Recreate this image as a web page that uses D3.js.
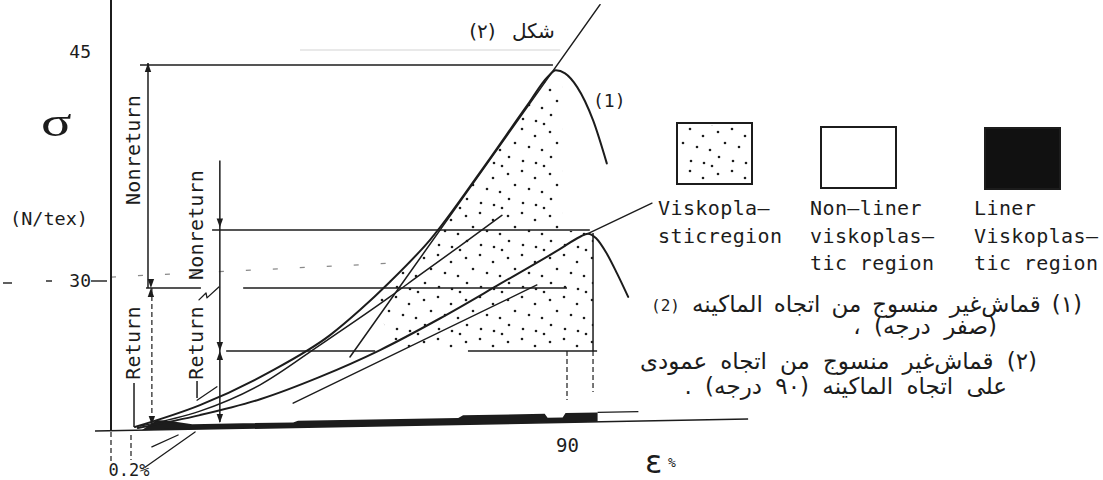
<!DOCTYPE html>
<html>
<head>
<meta charset="utf-8">
<script src="https://cdn.jsdelivr.net/npm/d3@7/dist/d3.min.js"></script>
<style>
  html, body { margin: 0; padding: 0; background: #fff; }
  #wrap { position: relative; width: 1103px; height: 480px; overflow: hidden; }
  svg { display: block; }
  .mono { font-family: "DejaVu Sans Mono", "Liberation Mono", monospace; fill: #1c1c1c; }
  .ar { font-family: "DejaVu Sans", "Noto Sans", sans-serif; fill: #1c1c1c; }
  .note { position: absolute; white-space: nowrap; line-height: 0.9; direction: rtl;
          font-family: "DejaVu Sans", "Noto Sans", sans-serif; color: #1c1c1c; }
</style>
</head>
<body>
<div id="wrap"><svg id="chart" width="1103" height="480"></svg></div>
<script>
// ---------------------------------------------------------------------
// Stress–strain sketch of a nonwoven fabric: specific stress σ (N/tex)
// against strain ε (%), machine direction (1) and cross direction (2).
// ---------------------------------------------------------------------

// axis ticks
const strainTicks = [90];
const strainOffset = 0.2;               // permanent-set offset on ε
const stressTicks = [30, 45];
const stressAxisMax = 48.4;
const axisEnds = [[-0.16, -0.2], [127.3, 2.2]];   // drawn ε baseline

// curve (1): machine direction (0°)
const curve1 = [[1.0, 0.6], [14.4, 5.0], [28.8, 11.7], [41.2, 19.1], [47.4, 24.2],
  [53.5, 29.8], [61.8, 32.7], [72.5, 37.3], [81.8, 41.5], [86.1, 43.4],
  [87.7, 43.8], [89.6, 43.6], [92.1, 42.7], [95.4, 40.5], [98.2, 37.7]];
// secant drawn under curve (1)
const curve1Secant = [[2.1, 0.8], [14.4, 3.8], [26.8, 9.1], [39.1, 17.1],
  [53.5, 26.8], [59.7, 30.4], [68.0, 32.3], [76.6, 34.3]];
// straight line through the peak of (1), running up to the figure label
const curve1Chord = [[45.3, 14.7], [56.4, 30], [96.8, 48.1]];

// curve (2): cross direction (90°)
const curve2 = [[1.6, 0.4], [14.4, 3.0], [26.8, 6.2], [39.1, 10.7], [51.5, 16.1],
  [63.9, 22.5], [76.2, 29.4], [88.6, 32.1], [92.7, 32.9], [94.3, 33.1],
  [96.0, 32.8], [98.0, 31.9], [100.3, 30.5], [102.6, 26.8]];
const curve2Tangent = [[33.6, 5.4], [83.8, 29.2]];
const curve2Leader = [[94.3, 33.1], [107.5, 35.1]];

// short construction strokes near the origin
const originTangent = [[13.8, 6.0], [17.9, 8.7]];
const offsetPointers = [[[4.5, -3.4], [9.9, -1.0]], [[3.1, -7.5], [13.4, -0.4]]];
const hookLeader = [[14.2, 26.2], [15.65, 27.6], [15.85, 26.6], [18.3, 28.8]];

// horizontal limit lines: stress level and the strain spans they cover
const limitLevels = [44.15, 33.34, 28.59, 15.9];
const limitSpans = [
  [[2.05, 87.1]],
  [[16.9, 94.7]],
  [[3.3, 14.6], [23.3, 90.0]],
  [[19.8, 50.5], [69.6, 96.2]]
];
const faintGuides = [[[0, 30.26], [54.6, 31.18]], [[35.0, 45.13], [88.6, 45.13]]];

// vertical dimension bars: strain, from-stress, to-stress, dashed?
const dimStrain = [3.7, 4.5, 18.5, 0.82, 13.8, 90, 95.36, 95.36, 0, 0.2];
const dimFrom   = [44.28, 28.59, 37.9, 9.46, 9.86, 15.9, 33.14, 15.9, -0.4, -1.0];
const dimTo     = [28.59, 1.2, 1.6, 0.6, 6.44, 6.04, 15.9, 7.65, -6.44, -6.04];
const dimDashed = [false, true, false, false, false, true, false, true, true, true];

const arrowsUp = [[3.7, 44.28]];
const arrowsDown = [[4.5, 1.0], [18.5, 33.5], [18.5, 1.4]];
const hourglasses = [[4.3, 28.59], [18.5, 15.9]];

// viscoplastic (stippled) region
const viscoplasticRegion = [[49.8, 26.0], [53.5, 29.8], [61.8, 32.7], [72.5, 37.3],
  [81.8, 41.5], [86.1, 43.4], [88.2, 43.7], [89.0, 43.2], [89.0, 33.3],
  [95.4, 33.2], [95.4, 15.9], [55.2, 15.9]];

// linear viscoplastic (black) band along the strain axis
const linearBandStrain = [2.4, 5.5, 9.0, 12.8, 33.6, 34.6, 67.6, 68.6, 85.4, 86.0, 89.1, 89.7, 96.3];
const linearBandHeight = [0, 2.0, 1.6, 1.0, 1.0, 1.3, 1.3, 1.8, 1.8, 1.0, 1.0, 1.9, 1.9];
const linearBandTail = [96.3, 104.7];

// texts
const dimLabels = ["Nonreturn", "Return", "Nonreturn", "Return"];
const legendLabels = [["Viskopla—", "sticregion"], ["Non—liner", "viskoplas—", "tic region"], ["Liner", "Viskoplas—", "tic region"]];
const figureTitle = "شكل (٢)";
const notes = [
  "(١) قماش‌غير منسوج من اتجاه الماكينه",
  "(صفر درجه) ،",
  "(٢) قماش‌غير منسوج من اتجاه عمودى",
  "على اتجاه الماكينه (٩٠ درجه) ."
];

// ---------------------------------------------------------------------
const ink = "#1c1c1c";
const svg = d3.select("#chart");

// both axes of the sketch are compressed, so the scales are piecewise linear
const xs = d3.scaleLinear().domain([0, strainOffset, strainTicks[0]]).range([111, 131, 567]);
const ys = d3.scaleLinear().domain([0, stressTicks[0], stressTicks[1]]).range([430, 281, 52]);

const straight = d3.line().x(d => xs(d[0])).y(d => ys(d[1]));
const smooth = d3.line().x(d => xs(d[0])).y(d => ys(d[1])).curve(d3.curveMonotoneX);
const closed = d3.line().x(d => xs(d[0])).y(d => ys(d[1])).curve(d3.curveLinearClosed);

// stipple pattern
const defs = svg.append("defs");
const pat = defs.append("pattern").attr("id", "stipple")
  .attr("patternUnits", "userSpaceOnUse").attr("width", 42).attr("height", 42);
[[4, 6], [18, 3], [31, 10], [11, 17], [25, 21], [38, 24], [5, 31], [19, 35], [32, 37], [40, 40]]
  .forEach(([cx, cy]) => pat.append("circle").attr("cx", cx).attr("cy", cy).attr("r", 1.3).attr("fill", ink));

// stippled region
svg.append("path").attr("d", closed(viscoplasticRegion)).attr("fill", "url(#stipple)");

// strain baseline (slightly skewed as drawn)
const basePx = d3.scaleLinear()
  .domain(axisEnds.map(d => xs(d[0])))
  .range(axisEnds.map(d => ys(d[1])));
const baseStress = e => ys.invert(basePx(xs(e)));

// black band
const bandTop = linearBandStrain.map((e, i) => [e, baseStress(e) + linearBandHeight[i]]);
const nB = linearBandStrain.length - 1;
const bandPoly = bandTop.concat([
  [linearBandStrain[nB], baseStress(linearBandStrain[nB])],
  [linearBandStrain[0], baseStress(linearBandStrain[0])]
]);
svg.append("path").attr("d", closed(bandPoly)).attr("fill", ink);
const tailH = linearBandHeight[nB];
svg.append("path").attr("d", straight(linearBandTail.map(e => [e, baseStress(e) + tailH])))
  .attr("stroke", ink).attr("stroke-width", 1.2).attr("fill", "none");

// faint guides
faintGuides.forEach((g, i) => {
  svg.append("path").attr("d", straight(g)).attr("fill", "none")
    .attr("stroke", i === 0 ? "#8a8a8a" : "#e2e2e2").attr("stroke-width", 1.3)
    .attr("stroke-dasharray", i === 0 ? "5 22" : null);
});

// horizontal limit lines
limitLevels.forEach((s, i) => {
  limitSpans[i].forEach(span => {
    svg.append("path").attr("d", straight(span.map(e => [e, s])))
      .attr("stroke", ink).attr("stroke-width", 1.5).attr("fill", "none");
  });
});

// vertical dimension bars and drop lines
dimStrain.forEach((e, i) => {
  svg.append("path").attr("d", straight([[e, dimFrom[i]], [e, dimTo[i]]]))
    .attr("stroke", ink).attr("stroke-width", dimDashed[i] ? 1.2 : 1.5).attr("fill", "none")
    .attr("stroke-dasharray", dimDashed[i] ? "5 3" : null);
});

// arrowheads
function head(e, s, dir) {
  const x = xs(e), y = ys(s), h = 9 * dir, w = 3.2;
  svg.append("path").attr("d", `M${x},${y}L${x - w},${y + h}L${x + w},${y + h}Z`).attr("fill", ink);
}
arrowsUp.forEach(([e, s]) => head(e, s, 1));
arrowsDown.forEach(([e, s]) => head(e, s, -1));
hourglasses.forEach(([e, s]) => { head(e, s, -1); head(e, s, 1); });

// curves and construction lines
const strokes = [
  [curve1, smooth, 2.0], [curve2, smooth, 2.0], [curve1Secant, smooth, 1.5],
  [curve1Chord, straight, 1.5], [curve2Tangent, straight, 1.4], [curve2Leader, straight, 1.4],
  [originTangent, straight, 1.3], [hookLeader, straight, 1.3],
  [offsetPointers[0], straight, 1.3], [offsetPointers[1], straight, 1.3]
];
strokes.forEach(([pts, gen, w]) => {
  svg.append("path").attr("d", gen(pts)).attr("fill", "none")
    .attr("stroke", ink).attr("stroke-width", w).attr("stroke-linejoin", "round").attr("stroke-linecap", "round");
});

// axes
svg.append("path").attr("d", straight(axisEnds)).attr("stroke", ink).attr("stroke-width", 1.6).attr("fill", "none");
svg.append("line").attr("x1", xs(0)).attr("x2", xs(0)).attr("y1", ys(0)).attr("y2", ys(stressAxisMax))
  .attr("stroke", ink).attr("stroke-width", 2);

const yAxis = svg.append("g").attr("transform", `translate(${xs(0)},0)`)
  .call(d3.axisLeft(ys).tickValues(stressTicks).tickSize(0).tickPadding(20));
yAxis.select(".domain").remove();
yAxis.attr("font-family", null).attr("font-size", null);
yAxis.selectAll("text").attr("class", "mono").style("font-size", "18px").style("fill", ink);
// dash after the 30 tick and stray marks to its left
const y30 = ys(30);
[[-20, -4], [-65, -59], [-108, -99]].forEach(([a, b]) =>
  svg.append("line").attr("x1", xs(0) + a).attr("x2", xs(0) + b)
    .attr("y1", y30 + (a < -100 ? 2 : 0)).attr("y2", y30 + (a < -100 ? 2 : 0))
    .attr("stroke", ink).attr("stroke-width", 1.4));

const xAxis = svg.append("g").attr("transform", `translate(0,${ys(0)})`)
  .call(d3.axisBottom(xs).tickValues(strainTicks).tickSize(0).tickPadding(9));
xAxis.select(".domain").remove();
xAxis.attr("font-family", null).attr("font-size", null);
xAxis.selectAll("text").attr("class", "mono").style("font-size", "19px").style("fill", ink);

svg.append("text").attr("class", "mono").attr("x", xs(strainOffset) - 2).attr("y", 476)
  .attr("text-anchor", "middle").style("font-size", "17px").text(strainOffset + "%");

// axis titles
svg.append("text").attr("transform", "translate(41,136) scale(1.35,1)")
  .style("font-family", "Liberation Serif, serif").style("font-size", "42px").style("fill", ink).text("σ");
svg.append("text").attr("class", "mono").attr("x", 10).attr("y", 225).style("font-size", "18.5px").text("(N/tex)");
svg.append("text").attr("x", 645).attr("y", 473).style("font-family", "DejaVu Sans, sans-serif")
  .style("font-size", "32px").style("fill", ink).text("ε");
svg.append("text").attr("class", "mono").attr("x", 668).attr("y", 467).style("font-size", "13px").text("%");

// rotated dimension labels
const dimLabelPos = [[140, 150], [140, 343], [203, 225], [203, 343]];
dimLabels.forEach((t, i) => {
  const [x, y] = dimLabelPos[i];
  svg.append("text").attr("class", "mono").attr("transform", `translate(${x},${y}) rotate(-90)`)
    .attr("text-anchor", "middle").style("font-size", "20px").style("letter-spacing", "0.2px").text(t);
});

// curve labels
svg.append("text").attr("class", "mono").attr("x", 593).attr("y", 107).style("font-size", "18px").text("(1)");
svg.append("text").attr("class", "mono").attr("x", 651).attr("y", 311).style("font-size", "16px").text("(2)");

// figure label
svg.append("text").attr("class", "ar").attr("x", 512).attr("y", 38).attr("text-anchor", "middle")
  .attr("direction", "rtl").style("direction", "rtl").style("font-size", "20px")
  .style("word-spacing", "10px").text(figureTitle);

// notes (right-to-left lines); word spacing stretches each to its width
const wrap = d3.select("#wrap");
const noteBox = [[1082, 312, 390], [997, 334, 150], [1037, 369, 397], [1007, 394, 327]];
const noteSize = 23;
notes.forEach((txt, i) => {
  const [xr, y, width] = noteBox[i];
  const div = wrap.append("div").attr("class", "note")
    .style("right", (1103 - xr) + "px").style("top", (y - 0.795 * noteSize) + "px")
    .style("font-size", noteSize + "px").text(txt);
  const w0 = div.node().getBoundingClientRect().width;
  const gaps = (txt.match(/ /g) || []).length;
  const extra = gaps ? Math.max(0, Math.min(6, (width - w0) / gaps)) : 0;
  div.style("word-spacing", extra + "px");
});

// legend
const swatchBox = [[677, 123], [821, 127], [985, 128]];
const swatchFill = ["url(#stipple)", "#fff", "#111"];
const labelX = [658, 810, 974];
legendLabels.forEach((lines, i) => {
  const [bx, by] = swatchBox[i];
  svg.append("rect").attr("x", bx).attr("y", by).attr("width", 75).attr("height", 61)
    .attr("fill", i === 0 ? "#fff" : swatchFill[i]).attr("stroke", ink).attr("stroke-width", 2);
  if (i === 0) svg.append("rect").attr("x", bx + 2).attr("y", by + 2).attr("width", 71).attr("height", 57).attr("fill", swatchFill[0]);
  lines.forEach((l, j) => {
    svg.append("text").attr("class", "mono").attr("x", labelX[i]).attr("y", 215 + j * 27.5)
      .style("font-size", "20px").style("letter-spacing", "0.4px").text(l);
  });
});
</script>
</body>
</html>
